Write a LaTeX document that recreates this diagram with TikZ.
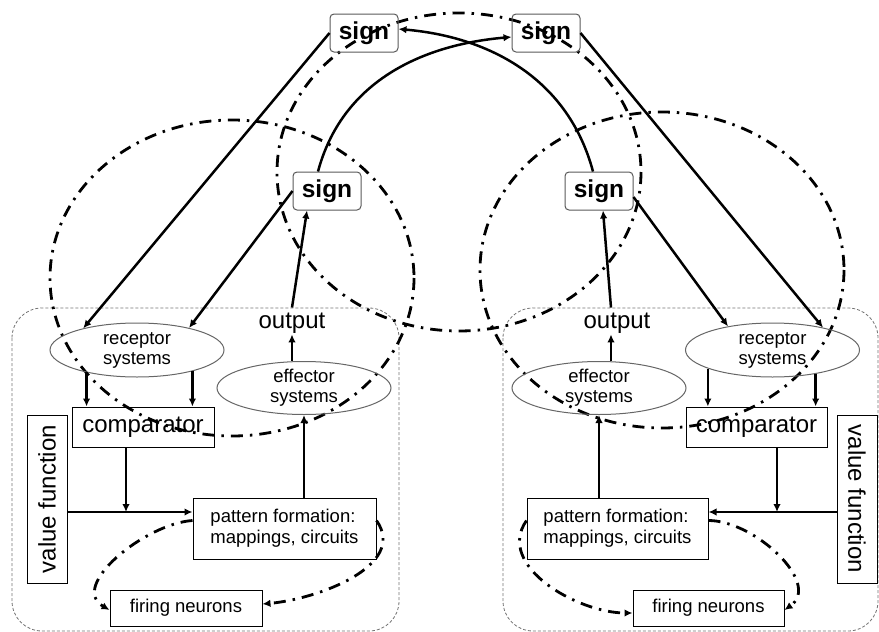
\documentclass[tikz,border=0pt]{standalone}
\usepackage{fontspec}
\setmainfont{Liberation Sans}
\usetikzlibrary{arrows.meta,shapes.geometric}

\tikzset{
  signbox/.style={draw=black!65, line width=1pt, rounded corners=4pt, minimum width=68pt, minimum height=38pt, inner sep=0pt, font=\fontsize{24.5}{26}\selectfont\bfseries},
  sysellipse/.style={draw=black!60, line width=1pt, ellipse, minimum width=174pt, minimum height=54pt, inner sep=0pt, align=center, font=\fontsize{18.5}{20}\selectfont},
  unitbox/.style={draw, line width=1pt, inner sep=0pt, font=\fontsize{18.5}{22}\selectfont},
  bigtext/.style={font=\fontsize{24}{26}\selectfont},
  arr/.style={line width=2.5pt, -{Latex[length=8pt,width=7.5pt]}},
  dashdot/.style={line width=2.8pt, dash pattern=on 12pt off 7pt on 2.5pt off 7pt},
  panel/.style={draw=black!55, line width=0.8pt, dash pattern=on 3pt off 2pt, rounded corners=30pt}
}

\begin{document}
\begin{tikzpicture}[x=1pt, y=-1pt]
    \useasboundingbox (0,0) rectangle (879,632);

    % panels
    \draw[panel] (12,308) rectangle (399,631);
    \draw[panel] (503,308) rectangle (878,631);

    % dash-dot circles
    \draw[dashdot] (459,172) ellipse [x radius=182, y radius=159];
    \draw[dashdot] (232,278) ellipse [x radius=182, y radius=158];
    \draw[dashdot] (662,270) ellipse [x radius=182, y radius=158];

    % signs
    \node[signbox] (tls) at (364,33) {sign};
    \node[signbox] (trs) at (546,33) {sign};
    \node[signbox] (mls) at (327,191) {sign};
    \node[signbox] (mrs) at (599,191) {sign};

    % left unit
    \node[sysellipse] (lrec) at (137,350) {receptor\\systems};
    \node[sysellipse, minimum height=53pt] (leff) at (304,388) {effector\\systems};
    \node[bigtext, inner sep=1pt] (lout) at (292,323) {output};
    \node[unitbox, bigtext, minimum width=142pt, minimum height=40pt] (lcomp) at (143,427) {comparator};
    \node[unitbox, bigtext, minimum width=168pt, minimum height=40pt, rotate=90] (lval) at (47,499) {value function};
    \node[unitbox, minimum width=183pt, minimum height=61pt, align=left, font=\fontsize{18.5}{21}\selectfont] (lpf) at (284.5,528.5) {pattern formation:\\mappings, circuits};
    \node[unitbox, minimum width=152pt, minimum height=36pt] (lfir) at (186,608) {firing neurons};
    \coordinate (lhub) at (126,512);

    % right unit
    \node[sysellipse] (rrec) at (772.5,350) {receptor\\systems};
    \node[sysellipse, minimum height=53pt] (reff) at (599,388) {effector\\systems};
    \node[bigtext, inner sep=1pt] (rout) at (617,323) {output};
    \node[unitbox, bigtext, minimum width=141pt, minimum height=40pt] (rcomp) at (756.5,427) {comparator};
    \node[unitbox, bigtext, minimum width=168pt, minimum height=40pt, rotate=-90] (rval) at (857,499) {value function};
    \node[unitbox, minimum width=181pt, minimum height=61pt, align=left, font=\fontsize{18.5}{21}\selectfont] (rpf) at (617.5,528.5) {pattern formation:\\mappings, circuits};
    \node[unitbox, minimum width=151pt, minimum height=36pt] (rfir) at (708.5,608) {firing neurons};
    \coordinate (rhub) at (777,512);

    % left connections
    \draw[arr] (lrec.204) -- (lrec.204 |- lcomp.north);
    \draw[arr] (lrec.339) -- (lrec.339 |- lcomp.north);
    \draw[arr] (lcomp.south -| lhub) -- (lhub);
    \draw[arr] (lval.south |- lhub) -- (lhub -| lpf.west);
    \draw[arr] (leff.south |- lpf.north) -- (leff.south);
    \draw[arr] (lout.south |- leff.north) -- (lout.south);
    \draw[arr] ([yshift=4pt]lout.north) -- ([xshift=-20pt]mls.south);
    \draw[arr, dashdot] ([yshift=8pt]lpf.west) to[out=184, in=150] ([yshift=-2pt]lfir.west);
    \draw[arr, dashdot] ([yshift=8pt]lpf.east) to[out=-55, in=5] ([yshift=4pt]lfir.east);

    % right connections
    \draw[arr] (rrec.196) -- (rrec.196 |- rcomp.north);
    \draw[arr] (rrec.331) -- (rrec.331 |- rcomp.north);
    \draw[arr] (rcomp.south -| rhub) -- (rhub);
    \draw[arr] (rval.south |- rhub) -- (rhub -| rpf.east);
    \draw[arr] (reff.south |- rpf.north) -- (reff.south);
    \draw[arr] ([xshift=-6pt]rout.south |- reff.north) -- ([xshift=-6pt]rout.south);
    \draw[arr] ([xshift=-6pt,yshift=4pt]rout.north) -- ([xshift=4pt]mrs.south);
    \draw[arr, dashdot] ([yshift=8pt]rpf.west) to[out=235, in=180] ([yshift=-5pt]rfir.west);
    \draw[arr, dashdot] ([yshift=8pt]rpf.east) to[out=0, in=35] ([yshift=-2pt]rfir.east);

    % sign links
    \draw[arr] (tls.west) -- (lrec.158);
    \draw[arr] (mls.west) -- (lrec.23);
    \draw[arr] (trs.east) -- (rrec.24);
    \draw[arr] ([yshift=-6pt]mrs.east) -- (rrec.152);
    \draw[arr] ([xshift=-9pt]mls.north) to[out=75, in=185] ([yshift=-4pt]trs.west);
    \draw[arr] ([xshift=-6pt]mrs.north) to[out=105, in=355] ([yshift=4pt]tls.east);
\end{tikzpicture}
\end{document}
